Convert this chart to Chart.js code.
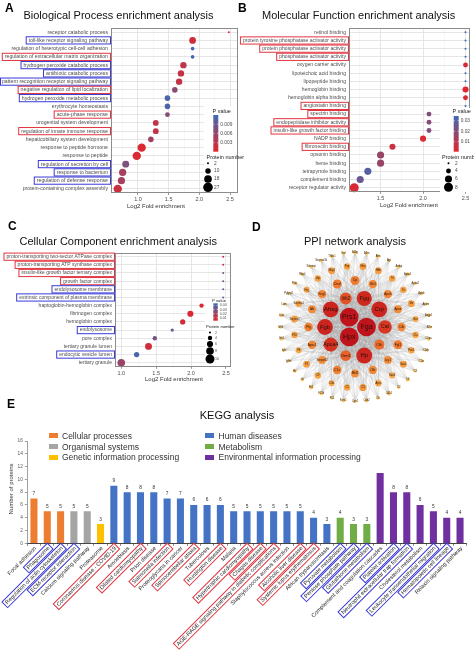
<!DOCTYPE html>
<html><head><meta charset="utf-8">
<script src="https://cdn.jsdelivr.net/npm/chart.js@4/dist/chart.umd.min.js"></script>
<style>
html,body{margin:0;padding:0;background:#fff;}
#page{position:relative;width:474px;height:651px;overflow:hidden;background:#fff;font-family:'Liberation Sans',Arial,sans-serif;}
canvas{position:absolute;left:0;top:0;}
.t{position:absolute;white-space:nowrap;line-height:1;color:#111;}
.sw{position:absolute;}
</style></head><body><div id="page">
<canvas id="cA" width="474" height="651"></canvas>
<canvas id="cB" width="474" height="651"></canvas>
<canvas id="cC" width="474" height="651"></canvas>
<canvas id="cD" width="474" height="651"></canvas>
<canvas id="cE" width="474" height="651"></canvas>
</div>
<script>
// ---------------- DATA ----------------
// A: Biological Process
const bpTerms = ['receptor catabolic process','toll-like receptor signaling pathway','regulation of heterotypic cell-cell adhesion','regulation of extracellular matrix organization','hydrogen peroxide catabolic process','antibiotic catabolic process','pattern recognition receptor signaling pathway','negative regulation of lipid localization','hydrogen peroxide metabolic process','erythrocyte homeostasis','acute-phase response','urogenital system development','regulation of innate immune response','hepaticobiliary system development','response to peptide hormone','response to peptide','regulation of secretion by cell','response to bacterium','regulation of defense response','protein-containing complex assembly'];
const bpFold = [2.48,1.89,1.89,1.89,1.74,1.70,1.67,1.60,1.48,1.48,1.48,1.29,1.29,1.21,1.06,0.98,0.80,0.75,0.73,0.67];
const bpP = [0.0008,0.0015,0.0115,0.0115,0.003,0.0025,0.0025,0.0065,0.011,0.011,0.007,0.0025,0.0025,0.005,0.0008,0.0008,0.0075,0.0045,0.0045,0.002];
const bpCount = [2,14,5,5,13,13,13,10,10,10,8,11,11,10,21,21,15,16,16,21];
const bpRedBox = ['regulation of extracellular matrix organization','negative regulation of lipid localization','acute-phase response','regulation of innate immune response'];
const bpBlueBox = ['toll-like receptor signaling pathway','hydrogen peroxide catabolic process','antibiotic catabolic process','pattern recognition receptor signaling pathway','hydrogen peroxide metabolic process','regulation of secretion by cell','response to bacterium','regulation of defense response'];

// B: Molecular Function
const mfTerms = ['retinol binding','protein tyrosine phosphatase activator activity','protein phosphatase activator activity','phosphatase activator activity','oxygen carrier activity','lipoteichoic acid binding','lipopeptide binding','hemoglobin binding','hemoglobin alpha binding','angiostatin binding','spectrin binding','endopeptidase inhibitor activity','insulin-like growth factor binding','NADP binding','fibronectin binding','opsonin binding','heme binding','tetrapyrrole binding','complement binding','receptor regulator activity'];
const mfFold = [2.5,2.5,2.5,2.5,2.5,2.5,2.5,2.5,2.5,2.5,2.07,2.07,2.07,2.0,1.64,1.5,1.5,1.35,1.26,1.19];
const mfP = [0.034,0.034,0.034,0.034,0.003,0.034,0.034,0.001,0.003,0.034,0.02,0.02,0.02,0.002,0.006,0.016,0.016,0.03,0.026,0.003];
const mfCount = [2,2,2,2,4,2,2,5,4,2,4,4,4,5,5,6,6,6,6,8];
const mfRedBox = ['protein tyrosine phosphatase activator activity','protein phosphatase activator activity','phosphatase activator activity','angiostatin binding','spectrin binding','endopeptidase inhibitor activity','insulin-like growth factor binding','fibronectin binding'];
const mfBlueBox = [];

// C: Cellular Component
const ccTerms = ['proton-transporting two-sector ATPase complex','proton-transporting ATP synthase complex','insulin-like growth factor ternary complex','growth factor complex','endolysosome membrane','extrinsic component of plasma membrane','haptoglobin-hemoglobin complex','fibrinogen complex','hemoglobin complex','endolysosome','pore complex','tertiary granule lumen','endocytic vesicle lumen','tertiary granule'];
const ccFold = [2.46,2.46,2.46,2.46,2.46,2.46,2.15,1.99,1.88,1.73,1.48,1.39,1.22,1.0];
const ccP = [0.012,0.012,0.03,0.03,0.035,0.035,0.006,0.005,0.008,0.036,0.03,0.008,0.042,0.022];
const ccCount = [2,2,2,2,2,2,4,6,5,3,4,7,5,8];
const ccRedBox = ['proton-transporting two-sector ATPase complex','proton-transporting ATP synthase complex','insulin-like growth factor ternary complex','growth factor complex'];
const ccBlueBox = ['endolysosome membrane','extrinsic component of plasma membrane','endolysosome','endocytic vesicle lumen'];

// D: PPI network (rings of nodes, degree per node)
const ppiRing0 = ['Fga','Hpx','Prs1'];
const ppiDeg0 = [44,44,44];
const ppiRing1 = ['Cat','Cfh','Hp','Orm1','Apoa4','Fgb','Ahsg','Itih2','Fgg','Crp'];
const ppiDeg1 = [30,20,36,22,31,36,36,25,34,36];
const ppiRing2 = ['Cp','Itih4','Apoh','Apoe','C4b','Fgl1','Lrg1','Cfb','Mbl2','C1s','Serpinf2','Apoc1','Plg','Alb','Kng1','Ctsd'];
const ppiDeg2 = [17,15,15,14,15,17,14,15,14,16,14,15,16,14,15,17];
const ppiRing3 = ['Hba','Hbb','Trf','Ttr','Vtn','Gsn','Clu','Pon1','Saa1','Saa2','Apcs','C3','C5','C8a','C9','F2','F9','F10','Serpinc1','Serpina1','Hrg','Lbp','Mug1','Pzp'];
const ppiDeg3 = [11,11,10,10,11,9,10,10,11,9,10,12,10,9,10,11,9,10,11,10,9,10,11,10];
const ppiRing4 = ['A1bg','A2m','Afm','Agt','Ambp','Apoa1','Apoa2','Apob','Apom','Azgp1','B2m','C1qa','C1qb','C1ra','C2','C6','C7','Cd14','Cfi','Cpb2','Cpn1','Ecm1','F12','F13b','Fn1','Gc','Hc','Ighm','Igkc','Itih1','Itih3','Lcat','Lum','Pglyrp2','Proc','Rbp4','Selenop','Serpina3k','Thbs1','Vwf'];
const ppiDeg4 = [3,2,3,2,3,4,2,3,2,3,2,3,2,3,2,3,2,4,2,3,2,3,2,3,4,2,3,2,2,3,2,3,2,2,3,2,3,2,3,2];

// E: KEGG
const keggTerms = ['Focal adhesion','Phagosome','Regulation of actin cytoskeleton','ECM-receptor interaction','Calcium signaling pathway','Proteasome','Coronavirus disease - COVID-19','Amoebiasis','Dilated cardiomyopathy','Prion disease','Salmonella infection','Proteoglycans in cancer','Spinocerebellar ataxia','Tuberculosis','Huntington disease','Malaria','Hypertrophic cardiomyopathy','Chagas disease','AGE-RAGE signaling pathway in diabetic complications','Staphylococcus aureus infection','Alcoholic liver disease','Systemic lupus erythematosus','African trypanosomiasis','Pyruvate metabolism','Pentose phosphate pathway','Glutathione metabolism','Complement and coagulation cascades','Platelet activation','Neutrophil extracellular trap formation','Cholesterol metabolism','Leukocyte transendothelial migration','Hematopoietic cell lineage','Relaxin signaling pathway'];
const keggCounts = [7,5,5,5,5,3,9,8,8,8,7,7,6,6,6,5,5,5,5,5,5,4,3,4,3,3,11,8,8,6,5,4,4];
const keggClass = [0,0,0,1,1,2,3,3,3,3,3,3,3,3,3,3,3,3,3,3,3,3,3,4,4,4,5,5,5,5,5,5,5];
const keggClassNames = ['Cellular processes','Organismal systems','Genetic information processing','Human diseases','Metabolism','Environmental information processing'];
const keggRedBox = ['Coronavirus disease - COVID-19','Dilated cardiomyopathy','Salmonella infection','Spinocerebellar ataxia','Huntington disease','Hypertrophic cardiomyopathy','Chagas disease','AGE-RAGE signaling pathway in diabetic complications','Alcoholic liver disease','Systemic lupus erythematosus'];
const keggBlueBox = ['Phagosome','Regulation of actin cytoskeleton','ECM-receptor interaction','Pyruvate metabolism','Pentose phosphate pathway','Glutathione metabolism','Platelet activation','Neutrophil extracellular trap formation','Leukocyte transendothelial migration','Hematopoietic cell lineage'];
const keggNoValueLabel = ['Complement and coagulation cascades'];

// ---------------- STYLE / HELPERS ----------------
const FONT = "'Liberation Sans', Arial, sans-serif";
const classColors = ['#ED7D31','#A5A5A5','#FFC000','#4472C4','#70AD47','#7030A0'];
const BOX_RED = '#e3343f', BOX_BLUE = '#3a3ad8';
const RED = [228,37,43], BLUE = [62,106,180];
Chart.defaults.font.family = FONT;
Chart.defaults.animation = false;
Chart.defaults.plugins.legend.display = false;
Chart.defaults.plugins.tooltip.enabled = false;
Chart.defaults.events = [];

function pColor(p, lo, hi){
  const t = Math.max(0, Math.min(1, (p-lo)/(hi-lo)));
  return 'rgb(' + RED.map((c,i)=>Math.round(c+(BLUE[i]-c)*t)).join(',') + ')';
}
function sizeR(n, s){
  const a = Math.sqrt(s.nmin), b = Math.sqrt(s.nmax);
  return s.rmin + (Math.sqrt(n)-a)/(b-a)*(s.rmax-s.rmin);
}
function zeroPad(s){ s.paddingLeft=0; s.paddingRight=0; s.paddingTop=0; s.paddingBottom=0; }
const page = document.getElementById('page');
function addText(txt, x, cy, size, opt){
  opt = opt || {};
  const d = document.createElement('div');
  d.className = 't';
  d.textContent = txt;
  d.style.fontSize = size + 'px';
  d.style.left = x + 'px';
  d.style.top = (cy - 0.49*size) + 'px';
  if (opt.center) d.style.transform = 'translateX(-50%)';
  if (opt.bold) d.style.fontWeight = 'bold';
  if (opt.color) d.style.color = opt.color;
  page.appendChild(d);
  return d;
}

// ---------------- DOT PLOTS ----------------
const X_AXIS_H = 9;
function dotPlot(id, d){
  const a = d.area;
  const data = d.terms.map((t,i)=>({x:d.fold[i], y:t, r:sizeR(d.count[i], d.size)}));
  const colors = d.terms.map((t,i)=>pColor(d.p[i], d.pRange[0], d.pRange[1]));
  const tickVals = [];
  for (let v = d.minorStart; v <= d.xmax + 1e-9; v += 0.25) tickVals.push(+v.toFixed(2));
  const isMajor = v => Math.abs(v*2 - Math.round(v*2)) < 1e-6;
  const deco = {
    id: 'deco_' + id,
    afterDraw(chart){
      const ctx = chart.ctx, ca = chart.chartArea, ys = chart.scales.y;
      ctx.save();
      ctx.strokeStyle = '#8c8c8c'; ctx.lineWidth = 1;
      ctx.strokeRect(Math.round(ca.left)+0.5, Math.round(ca.top)+0.5, Math.round(ca.right-ca.left)-1, Math.round(ca.bottom-ca.top)-1);
      ctx.font = d.labelSize + 'px ' + FONT;
      ctx.textAlign = 'right'; ctx.textBaseline = 'middle';
      d.terms.forEach((t,i)=>{
        const y = ys.getPixelForValue(i);
        const xr = ca.left - 3;
        ctx.fillStyle = '#4d4d4d';
        ctx.fillText(t, xr, y);
        const hl = d.red.includes(t) ? BOX_RED : (d.blue.includes(t) ? BOX_BLUE : null);
        if (hl){
          const w = ctx.measureText(t).width;
          const x0 = Math.max(0.5, xr - w - 2.5);
          ctx.strokeStyle = hl; ctx.lineWidth = 1;
          ctx.strokeRect(x0, y-3.6, ca.left - 0.5 - x0, 7.2);
        }
      });
      // legend
      const L = d.legend;
      ctx.fillStyle = '#fff'; ctx.fillRect(L.bg[0], L.bg[1], L.bg[2], L.bg[3]);
      ctx.textAlign = 'left';
      ctx.fillStyle = '#222'; ctx.font = L.titleSize + 'px ' + FONT;
      ctx.fillText('P value', L.pTitle[0], L.pTitle[1]);
      const g = ctx.createLinearGradient(0, L.bar[1], 0, L.bar[2]);
      for (let k=0;k<=10;k++) g.addColorStop(k/10, pColor(L.barRange[1]-(L.barRange[1]-L.barRange[0])*k/10, d.pRange[0], d.pRange[1]));
      ctx.fillStyle = g; ctx.fillRect(L.bar[0], L.bar[1], L.bar[3], L.bar[2]-L.bar[1]);
      ctx.font = L.tickSize + 'px ' + FONT;
      L.pTicks.forEach(v=>{
        const y = L.bar[2] - (v-L.barRange[0])/(L.barRange[1]-L.barRange[0])*(L.bar[2]-L.bar[1]);
        ctx.strokeStyle = '#fff'; ctx.lineWidth = 0.6;
        ctx.beginPath(); ctx.moveTo(L.bar[0], y); ctx.lineTo(L.bar[0]+1.2, y);
        ctx.moveTo(L.bar[0]+L.bar[3]-1.2, y); ctx.lineTo(L.bar[0]+L.bar[3], y); ctx.stroke();
        ctx.fillStyle = '#4d4d4d';
        ctx.fillText(L.fmt(v), L.bar[0]+L.bar[3]+2, y);
      });
      ctx.fillStyle = '#222'; ctx.font = L.titleSize + 'px ' + FONT;
      ctx.fillText('Protein number', L.nTitle[0], L.nTitle[1]);
      ctx.font = L.tickSize + 'px ' + FONT;
      L.nItems.forEach((n,k)=>{
        ctx.fillStyle = '#000';
        ctx.beginPath(); ctx.arc(L.nX, L.nY[k], sizeR(n, d.size), 0, Math.PI*2); ctx.fill();
        ctx.fillStyle = '#4d4d4d';
        ctx.fillText(String(n), L.nLabelX, L.nY[k]);
      });
      ctx.restore();
    }
  };
  return new Chart(document.getElementById(id), {
    type: 'bubble',
    data: {datasets: [{data, backgroundColor: colors, borderWidth: 0, clip: false}]},
    options: {
      responsive: false, devicePixelRatio: 1, animation: false,
      layout: {padding: {left: a.l, top: a.t, right: 474-a.r, bottom: 651-a.b-X_AXIS_H}},
      scales: {
        x: {type: 'linear', min: d.xmin, max: d.xmax,
            afterBuildTicks: s => { s.ticks = tickVals.map(v=>({value:v})); },
            afterFit: s => { s.height = X_AXIS_H; zeroPad(s); },
            grid: {color: c => isMajor(c.tick.value) ? '#e0e0e0' : '#f0f0f0',
                   lineWidth: c => isMajor(c.tick.value) ? 0.8 : 0.5,
                   drawTicks: true, tickLength: 2,
                   tickColor: c => isMajor(c.tick.value) ? '#777' : 'rgba(0,0,0,0)'},
            border: {display: false},
            ticks: {autoSkip: false, maxRotation: 0, padding: 1, font: {size: 5.5}, color: '#4d4d4d',
                    callback: v => isMajor(v) ? v.toFixed(1) : ''}},
        y: {type: 'category', labels: d.terms, offset: true,
            afterFit: s => { s.width = 0; zeroPad(s); },
            grid: {offset: false, color: '#e0e0e0', lineWidth: 0.8, drawTicks: false},
            border: {display: false}, ticks: {display: false}}
      }
    },
    plugins: [deco]
  });
}

dotPlot('cA', {
  terms: bpTerms, fold: bpFold, p: bpP, count: bpCount, red: bpRedBox, blue: bpBlueBox,
  area: {l:111, t:28, r:238, b:193}, xmin: 0.56, xmax: 2.63, minorStart: 0.75,
  pRange: [0.0001, 0.012], size: {nmin:2, nmax:27, rmin:1.0, rmax:4.8}, labelSize: 5.2,
  legend: {bg:[204,106,33,86], titleSize:5.5, tickSize:4.8, pTitle:[212.5,111.5], bar:[213.3,115,151.7,5], barRange:[0.0001,0.012],
           pTicks:[0.003,0.006,0.009], fmt: v=>v.toFixed(3), nTitle:[206.5,157.5], nItems:[2,10,18,27], nX:208, nY:[163.3,171,179,187.3], nLabelX:214}
});
dotPlot('cB', {
  terms: mfTerms, fold: mfFold, p: mfP, count: mfCount, red: mfRedBox, blue: mfBlueBox,
  area: {l:349, t:28.2, r:471, b:191.8}, xmin: 1.128, xmax: 2.547, minorStart: 1.25,
  pRange: [0.0005, 0.0345], size: {nmin:2, nmax:8, rmin:1.0, rmax:4.5}, labelSize: 5.1,
  legend: {bg:[440,108,30,84], titleSize:5.5, tickSize:4.8, pTitle:[452.5,111.5], bar:[453.7,116,151.7,5], barRange:[0.0005,0.0345],
           pTicks:[0.01,0.02,0.03], fmt: v=>v.toFixed(2), nTitle:[442,157], nItems:[2,4,6,8], nX:448.5, nY:[163.3,171,179,187.3], nLabelX:455}
});
dotPlot('cC', {
  terms: ccTerms, fold: ccFold, p: ccP, count: ccCount, red: ccRedBox, blue: ccBlueBox,
  area: {l:115, t:252.6, r:231, b:366.8}, xmin: 0.91, xmax: 2.572, minorStart: 1.0,
  pRange: [0.003, 0.045], size: {nmin:2, nmax:10, rmin:1.0, rmax:4.5}, labelSize: 5.0,
  legend: {bg:[205,299,25,67], titleSize:4.2, tickSize:3.6, pTitle:[212,300.8], bar:[213.3,303.3,320.7,4.5], barRange:[0.003,0.045],
           pTicks:[0.01,0.02,0.03,0.04], fmt: v=>v.toFixed(2), nTitle:[206,326.5], nItems:[2,4,6,8,10], nX:210, nY:[332.5,338,344,351,359], nLabelX:215}
});

// ---------------- PPI NETWORK ----------------
const degStops = [[2,[248,206,110]],[10,[245,163,70]],[16,[240,128,50]],[24,[228,88,42]],[32,[210,44,32]],[44,[192,20,28]]];
function degColor(dg){
  for (let k=1;k<degStops.length;k++){
    if (dg <= degStops[k][0] || k === degStops.length-1){
      const [d0,c0] = degStops[k-1], [d1,c1] = degStops[k];
      const t = Math.max(0, Math.min(1, (dg-d0)/(d1-d0)));
      return 'rgb(' + c0.map((c,i)=>Math.round(c+(c1[i]-c)*t)).join(',') + ')';
    }
  }
}
const ringLayout = [
  {names: ppiRing0, deg: ppiDeg0, R: 11.5, start: 0},
  {names: ppiRing1, deg: ppiDeg1, R: 30, start: 0},
  {names: ppiRing2, deg: ppiDeg2, R: 46.5, start: -90},
  {names: ppiRing3, deg: ppiDeg3, R: 61, start: -82.5},
  {names: ppiRing4, deg: ppiDeg4, R: 74.5, start: -90}
];
const ppiNodes = [];
ringLayout.forEach((ring, ri)=>{
  ring.names.forEach((nm, k)=>{
    const ang = (ring.start + k*360/ring.names.length) * Math.PI/180;
    ppiNodes.push({name: nm, ring: ri, deg: ring.deg[k], x: ring.R*Math.cos(ang), y: ring.R*Math.sin(ang)});
  });
});
const ppiDeco = {
  id: 'ppiDeco',
  beforeDatasetsDraw(chart){
    const ctx = chart.ctx, el = chart.getDatasetMeta(0).data;
    ctx.save();
    ctx.strokeStyle = 'rgba(150,150,150,0.3)'; ctx.lineWidth = 0.4;
    ctx.beginPath();
    ppiNodes.forEach((a,i)=>{
      if (a.ring > 1) return;
      ppiNodes.forEach((b,j)=>{
        if (j <= i && b.ring <= 1) return;
        ctx.moveTo(el[i].x, el[i].y); ctx.lineTo(el[j].x, el[j].y);
      });
    });
    ctx.stroke();
    ctx.restore();
  },
  afterDatasetsDraw(chart){
    const ctx = chart.ctx, el = chart.getDatasetMeta(0).data;
    ctx.save();
    ctx.textAlign = 'center'; ctx.textBaseline = 'middle'; ctx.fillStyle = '#2a1208';
    ppiNodes.forEach((n,i)=>{
      const r = el[i].options.radius;
      const fs = Math.max(2.6, Math.min(7, r*0.75));
      ctx.font = fs + 'px ' + FONT;
      ctx.fillText(n.name, el[i].x, el[i].y);
    });
    ctx.restore();
  }
};
new Chart(document.getElementById('cD'), {
  type: 'bubble',
  data: {datasets: [{data: ppiNodes.map(n=>({x:n.x, y:n.y, r:1.8+(n.deg-2)*0.18})), backgroundColor: ppiNodes.map(n=>degColor(n.deg)), borderWidth: 0, clip: false}]},
  options: {responsive:false, devicePixelRatio:1, animation:false,
    layout: {padding: {left:275, top:247, right:474-435, bottom:651-407}},
    scales: {x:{display:false, min:-80, max:80}, y:{display:false, min:-80, max:80, reverse:true}}},
  plugins: [ppiDeco]
});

// ---------------- KEGG BAR CHART ----------------
const keggDeco = {
  id: 'keggDeco',
  afterDatasetsDraw(chart){
    const ctx = chart.ctx, meta = chart.getDatasetMeta(0);
    ctx.save();
    ctx.font = '4.8px ' + FONT; ctx.fillStyle = '#333'; ctx.textAlign = 'center'; ctx.textBaseline = 'bottom';
    meta.data.forEach((bar,i)=>{
      if (keggNoValueLabel.includes(keggTerms[i])) return;
      ctx.fillText(String(keggCounts[i]), bar.x, bar.y - 2.5);
    });
    ctx.restore();
  },
  afterDraw(chart){
    const ctx = chart.ctx, xs = chart.scales.x;
    ctx.save();
    ctx.font = '5.6px ' + FONT; ctx.textAlign = 'right'; ctx.textBaseline = 'middle';
    keggTerms.forEach((t,i)=>{
      const x = xs.getPixelForValue(i);
      ctx.save();
      ctx.translate(x + 1.5, 547.5);
      ctx.rotate(-Math.PI/4);
      ctx.fillStyle = '#222';
      ctx.fillText(t, 0, 0);
      const hl = keggRedBox.includes(t) ? BOX_RED : (keggBlueBox.includes(t) ? BOX_BLUE : null);
      if (hl){
        const w = ctx.measureText(t).width;
        ctx.strokeStyle = hl; ctx.lineWidth = 1;
        ctx.strokeRect(-w-2, -4, w+4, 8);
      }
      ctx.restore();
    });
    ctx.translate(11.5, 489); ctx.rotate(-Math.PI/2);
    ctx.textAlign = 'center'; ctx.font = '6px ' + FONT; ctx.fillStyle = '#333';
    ctx.fillText('Number of proteins', 0, 0);
    ctx.restore();
  }
};
new Chart(document.getElementById('cE'), {
  type: 'bar',
  data: {labels: keggTerms, datasets: [{data: keggCounts, backgroundColor: keggCounts.map((_,i)=>classColors[keggClass[i]]), categoryPercentage: 1, barPercentage: 0.53, borderWidth: 0}]},
  options: {responsive:false, devicePixelRatio:1, animation:false,
    layout: {padding: {left:17.3, top:441, right:7.3, bottom:107.7}},
    scales: {
      x: {offset: true, afterFit: s=>{ s.height = 0; zeroPad(s); }, ticks: {display:false},
          grid: {offset:true, drawOnChartArea:false, drawTicks:true, tickLength:2.5, color:'#666', lineWidth:0.8},
          border: {display:true, color:'#444', width:1}},
      y: {min:0, max:16, afterFit: s=>{ s.width = 10; zeroPad(s); },
          ticks: {stepSize:2, font:{size:4.8}, color:'#595959', padding:2},
          grid: {drawOnChartArea:false, drawTicks:true, tickLength:2.5, color:'#888', lineWidth:0.8},
          border: {display:true, color:'#888', width:0.8}}
    }},
  plugins: [keggDeco]
});

// ---------------- TITLES & TEXT ----------------
addText('A', 5, 7.5, 12, {bold:true, color:'#000'});
addText('B', 238, 7.5, 12, {bold:true, color:'#000'});
addText('C', 8, 226, 12, {bold:true, color:'#000'});
addText('D', 252, 227, 12, {bold:true, color:'#000'});
addText('E', 7, 404, 12, {bold:true, color:'#000'});
addText('Biological Process enrichment analysis', 118.5, 15.7, 11, {center:true});
addText('Molecular Function enrichment analysis', 358.7, 15.7, 11, {center:true});
addText('Cellular Component enrichment analysis', 118.3, 241.7, 11, {center:true});
addText('PPI network analysis', 355, 241.7, 11, {center:true});
addText('KEGG analysis', 237, 415.7, 11, {center:true});
addText('Log2 Fold enrichment', 156, 206, 6, {center:true, color:'#333'});
addText('Log2 Fold enrichment', 409, 205, 6, {center:true, color:'#333'});
addText('Log2 Fold enrichment', 174, 379, 6, {center:true, color:'#333'});
// KEGG legend
const legX = [[49.3,62],[205,218.5]], legY = [435.7,446.7,457.3];
keggClassNames.forEach((nm,k)=>{
  const col = Math.floor(k/3), row = k%3;
  const sw = document.createElement('div');
  sw.className = 'sw';
  sw.style.cssText = 'left:'+legX[col][0]+'px;top:'+(legY[row]-2.8)+'px;width:9px;height:5.6px;background:'+classColors[k]+';';
  page.appendChild(sw);
  addText(nm, legX[col][1], legY[row], 8.5, {color:'#333'});
});
</script>
</body></html>
